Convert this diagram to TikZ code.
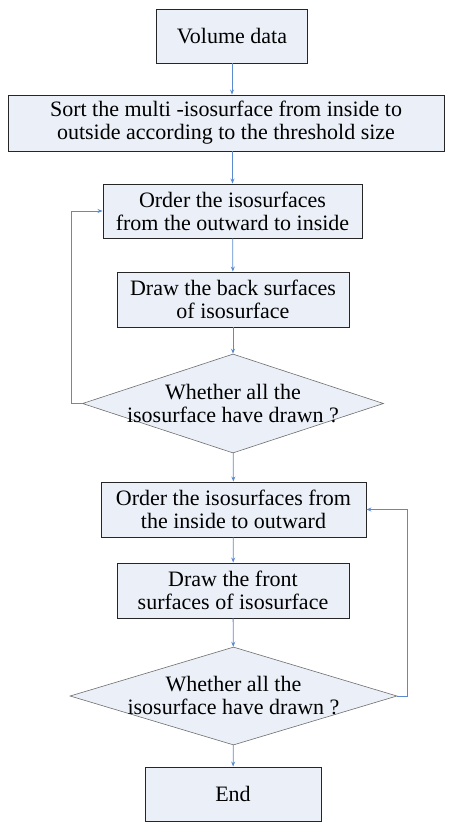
\documentclass[tikz,border=0pt]{standalone}
\usepackage{fontspec}
\setmainfont{Liberation Serif}
\usetikzlibrary{shapes.geometric,arrows.meta}

\definecolor{boxfill}{RGB}{235,240,248}
\definecolor{linkblue}{RGB}{92,138,208}
\definecolor{edgegray}{RGB}{110,110,110}

\tikzset{
  procbox/.style={rectangle, draw=black!85, line width=0.9pt, fill=boxfill,
                  align=center, inner sep=0pt, font=\fontsize{22}{23}\selectfont},
  decision/.style={diamond, draw=edgegray, line width=0.6pt, fill=boxfill, inner sep=0pt},
  decisiontext/.style={align=center, inner sep=0pt, font=\fontsize{22}{23}\selectfont},
  flow/.style={draw=linkblue, line width=0.8pt, -{Stealth[length=5pt,width=4pt]}}
}

\begin{document}
\begin{tikzpicture}[x=1pt,y=-1pt]
      \useasboundingbox (0,0) rectangle (451,823);

      \node at (232,36)    [procbox, minimum width=151, minimum height=54]  (vol)    {Volume data};
      \node at (226,123)   [procbox, minimum width=436, minimum height=56]  (sort)   {Sort the multi -isosurface from inside to\\outside according to the threshold size};
      \node at (232.5,211) [procbox, minimum width=259, minimum height=54]  (order1) {Order the isosurfaces\\from the outward to inside};
      \node at (233,299.5) [procbox, minimum width=232, minimum height=55]  (back)   {Draw the back surfaces\\of isosurface};
      \node at (233,403.5) [decision, minimum width=301, minimum height=99] (check1) {};
      \node at (check1)    [decisiontext]                                   (check1txt) {Whether all the\\isosurface have drawn ?};

      \node at (233.5,509.5) [procbox, minimum width=265, minimum height=55] (order2) {Order the isosurfaces from\\the inside to outward};
      \node at (233,590.5)   [procbox, minimum width=232, minimum height=55] (front)  {Draw the front\\surfaces of isosurface};
      \node at (233.5,696)   [decision, minimum width=327, minimum height=98] (check2) {};
      \node at (check2)      [decisiontext]                                  (check2txt) {Whether all the\\isosurface have drawn ?};
      \node at (233,794)     [procbox, minimum width=176, minimum height=54] (endbox) {End};

      \draw[flow] (vol)  -- (vol |- sort.north);
      \draw[flow] (order1 |- sort.south) -- (order1);
      \draw[flow] (order1) -- (back);
      \draw[flow] (back)   -- (check1);
      \draw[flow] (check1.west) -- ++(-11,0) |- (order1.west);
      \draw[flow] (check1) -- (order2);
      \draw[flow] (order2) -- (front);
      \draw[flow] (front)  -- (check2);
      \draw[flow] (check2.east) -- ++(10,0) |- (order2.east);
      \draw[flow] (check2) -- (endbox);
\end{tikzpicture}
\end{document}
